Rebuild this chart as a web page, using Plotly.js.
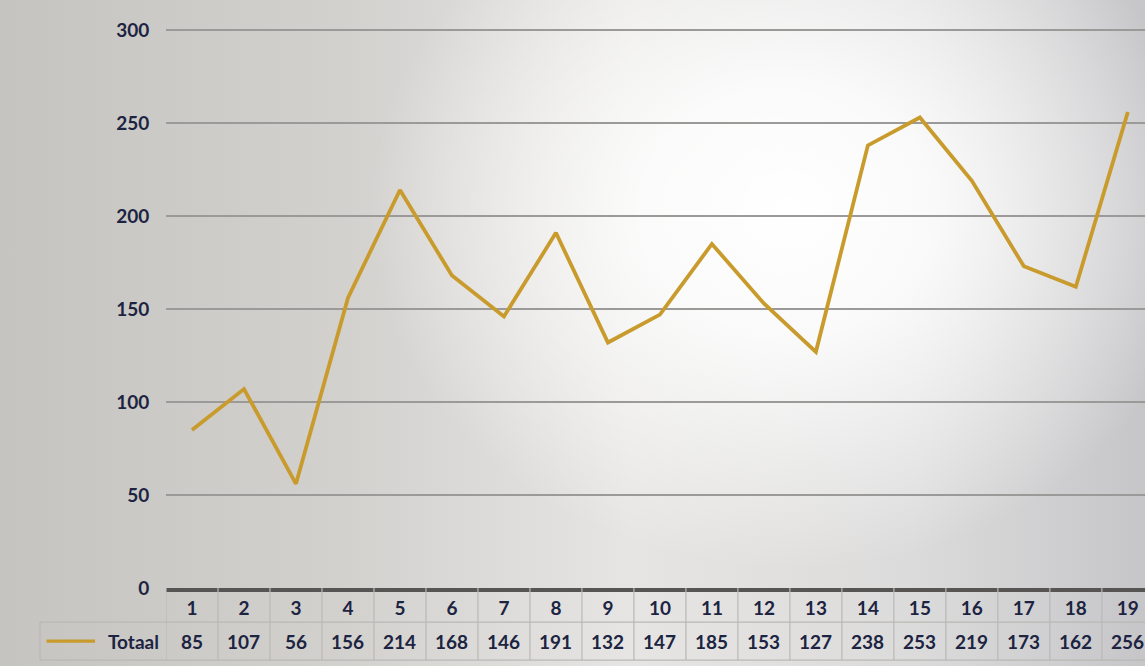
<!DOCTYPE html>
<html>
<head>
<meta charset="utf-8">
<script src="https://cdn.plot.ly/plotly-3.0.1.min.js"></script>
<style>
html,body{margin:0;padding:0;}
#chart{width:1145px;height:666px;
background:
 radial-gradient(ellipse 420px 360px at 790px 210px, rgba(255,255,255,1) 0%, rgba(255,255,255,0.85) 35%, rgba(255,255,255,0) 100%),
 linear-gradient(90deg, #c6c4c1 0%, #d3d1ce 30%, #e6e5e3 55%, #dcdbdb 80%, #c6c6c9 100%);}
</style>
</head>
<body>
<div id="chart"></div>
<script>
const categories = [1,2,3,4,5,6,7,8,9,10,11,12,13,14,15,16,17,18,19];
const totaal = [85,107,56,156,214,168,146,191,132,147,185,153,127,238,253,219,173,162,256];
const seriesName = "Totaal";
const yTicks = [0,50,100,150,200,250,300];

const lineColor = "#C89B2C";
const textColor = "#1c2442";
const font = "Lato, 'Open Sans', sans-serif";

const trace = {
  x: categories, y: totaal, type: "scatter", mode: "lines",
  line: {color: lineColor, width: 3.8}, hoverinfo: "skip", showlegend: false
};

const rowTop = -0.061, rowBottom = -0.129, headerLeft = -0.1287;
const shapes = [];
for (let i = 0; i <= categories.length; i++) {
  shapes.push({type: "line", xref: "x", yref: "paper", x0: categories[0] - 0.5 + i, x1: categories[0] - 0.5 + i,
    y0: 0, y1: rowBottom, line: {color: "#b9b8b5", width: 1.2}});
}
shapes.push({type: "line", xref: "paper", yref: "paper", x0: headerLeft, x1: 1, y0: rowTop, y1: rowTop, line: {color: "#b9b8b5", width: 1.2}});
shapes.push({type: "line", xref: "paper", yref: "paper", x0: headerLeft, x1: 1, y0: rowBottom, y1: rowBottom, line: {color: "#b9b8b5", width: 1.2}});
shapes.push({type: "line", xref: "paper", yref: "paper", x0: headerLeft, x1: headerLeft, y0: rowTop, y1: rowBottom, line: {color: "#b9b8b5", width: 1.2}});
shapes.push({type: "line", xref: "paper", yref: "paper", x0: -0.122, x1: -0.0725, y0: -0.095, y1: -0.095, line: {color: lineColor, width: 3.2}});

const annotations = categories.map((c, i) => ({
  x: c, y: -0.095, xref: "x", yref: "paper", text: "<b>" + totaal[i] + "</b>",
  showarrow: false, xanchor: "center", yanchor: "middle",
  font: {family: font, size: 19, color: textColor}
}));
annotations.push({x: -0.005, y: -0.095, xref: "paper", yref: "paper", text: "<b>" + seriesName + "</b>",
  showarrow: false, xanchor: "right", yanchor: "middle", font: {family: font, size: 19, color: textColor}});

const layout = {
  width: 1145, height: 666,
  margin: {l: 166, r: 0, t: 29, b: 78},
  paper_bgcolor: "rgba(0,0,0,0)", plot_bgcolor: "rgba(0,0,0,0)",
  showlegend: false,
  xaxis: {
    range: [0.5, 19.33], tickvals: categories, ticktext: categories.map(c => "<b>" + c + "</b>"),
    showgrid: false, zeroline: false, showline: true, linecolor: "#565553", linewidth: 4,
    ticks: "", tickfont: {family: font, size: 19, color: textColor}, fixedrange: true
  },
  yaxis: {
    range: [0, 300.6], tickvals: yTicks, ticktext: yTicks.map(v => "<b>" + v + "</b>"),
    showgrid: true, gridcolor: "#9b9a98", gridwidth: 1.5, zeroline: false, showline: false,
    ticks: "outside", ticklen: 12, tickcolor: "rgba(0,0,0,0)",
    tickfont: {family: font, size: 19, color: textColor}, fixedrange: true
  },
  shapes: shapes, annotations: annotations
};
Plotly.newPlot("chart", [trace], layout, {staticPlot: true});
</script>
</body>
</html>
